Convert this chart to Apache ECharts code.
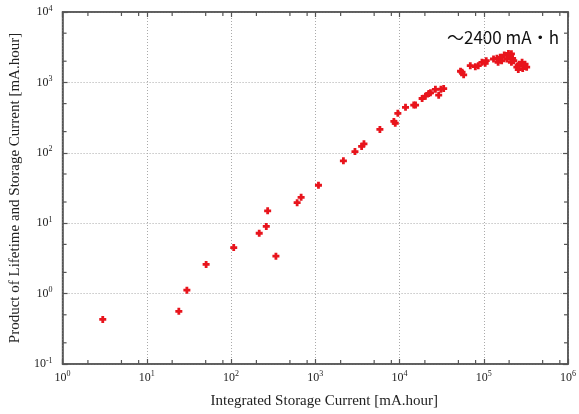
<!DOCTYPE html>
<html>
<head>
<meta charset="utf-8">
<script src="https://cdn.jsdelivr.net/npm/echarts@6/dist/echarts.min.js"></script>
<style>
  html, body { margin: 0; padding: 0; background: #fff; }
  #main { width: 579px; height: 414px; }
</style>
</head>
<body>
<div id="main"></div>
<script>
// 积分电流 [mA.hour]
var currentData = [3, 24, 29.9, 50.6, 107.6, 216, 262, 272, 341, 609, 679, 1091, 2157, 2958, 3550, 3783, 5848,
  8570, 8900, 9550, 11780, 14760, 15500, 18550, 20300, 22230, 23300, 26670, 29170, 31000, 33430,
  53000, 55200, 57700, 69200, 79400, 86000, 95200, 104000, 107000,
  130600, 143300, 148000, 156700, 163000, 175000, 188000, 196500, 204000, 213000, 213000, 220000, 227000,
  247000, 257000, 257000, 264000, 285000, 290000, 296000, 309000, 323000];
// 寿命 x 电流 [mA.hour]
var productData = [0.43, 0.56, 1.12, 2.6, 4.5, 7.2, 9.0, 15, 3.4, 19.6, 23.3, 34.6, 76.8, 104, 123, 134, 215,
  279, 263, 364, 442, 476, 476, 591, 637, 695, 713, 798, 658, 800, 816,
  1440, 1399, 1282, 1730, 1675, 1730, 1930, 1870, 2032,
  2150, 2195, 1930, 2270, 2030, 2443, 2150, 2580, 2270, 2550, 1930, 2195, 2030,
  1644, 1520, 1730, 1810, 1930, 1570, 1730, 1810, 1644];
// 次刻度
var xMinorTicks = [];
var yMinorTicks = [];
[0, 1, 2, 3, 4, 5].forEach(function (e) {
  [2, 5, 8].forEach(function (m) { xMinorTicks.push(m * Math.pow(10, e)); });
});
[-1, 0, 1, 2, 3].forEach(function (e) {
  [2, 5].forEach(function (m) { yMinorTicks.push(m * Math.pow(10, e)); });
});

(function () {
  var chart = echarts.init(document.getElementById('main'));

  var points = currentData.map(function (x, i) { return [x, productData[i]]; });
  var tickData = xMinorTicks.map(function (v) { return [v, 1, 'x']; })
    .concat(yMinorTicks.map(function (v) { return [1, v, 'y']; }));

  var axisColor = '#555';
  var serif = '"Liberation Serif", "DejaVu Serif", serif';

  function powLabel (v) {
    var e = Math.round(Math.log10(v));
    return '{b|10}{s|' + e + '}';
  }
  var labelRich = {
    b: { fontSize: 12, fontFamily: serif, color: '#222' },
    s: { fontSize: 8, fontFamily: serif, color: '#222', padding: [0, 0, 7, 0] }
  };
  var gridLine = { show: true, lineStyle: { color: '#aaa', type: [1, 2], width: 1 } };

  var option = {
    backgroundColor: '#fff',
    animation: false,
    grid: { left: 61, right: 11, top: 12, bottom: 45, show: true, borderColor: axisColor, borderWidth: 1.5 },
    xAxis: [
      {
        type: 'log', logBase: 10, min: 1, max: 1e6,
        name: 'Integrated Storage Current [mA.hour]',
        nameLocation: 'middle', nameGap: 30,
        nameTextStyle: { fontFamily: serif, fontSize: 15, color: '#222', padding: [0, 0, 0, 18] },
        axisLine: { lineStyle: { color: axisColor, width: 1.5 } },
        axisTick: { inside: true, length: 5, lineStyle: { color: axisColor, width: 1.2 } },
        axisLabel: { margin: 6, formatter: powLabel, rich: labelRich },
        splitLine: gridLine
      },
      {
        type: 'log', logBase: 10, min: 1, max: 1e6, position: 'top',
        axisLine: { lineStyle: { color: axisColor, width: 1.5 } },
        axisTick: { inside: true, length: 5, lineStyle: { color: axisColor, width: 1.2 } },
        axisLabel: { show: false },
        splitLine: { show: false }
      }
    ],
    yAxis: [
      {
        type: 'log', logBase: 10, min: 0.1, max: 1e4,
        name: 'Product of Lifetime and Storage Current [mA.hour]',
        nameLocation: 'middle', nameGap: 36,
        nameTextStyle: { fontFamily: serif, fontSize: 15, color: '#222' },
        axisLine: { lineStyle: { color: axisColor, width: 1.5 } },
        axisTick: { inside: true, length: 5, lineStyle: { color: axisColor, width: 1.2 } },
        axisLabel: { margin: 10, formatter: powLabel, rich: labelRich },
        splitLine: gridLine
      },
      {
        type: 'log', logBase: 10, min: 0.1, max: 1e4, position: 'right',
        axisLine: { lineStyle: { color: axisColor, width: 1.5 } },
        axisTick: { inside: true, length: 5, lineStyle: { color: axisColor, width: 1.2 } },
        axisLabel: { show: false },
        splitLine: { show: false }
      }
    ],
    graphic: [
      {
        type: 'text', left: 447, top: 29,
        style: { text: '～2400 mA・h', fontSize: 17, fontFamily: '"Noto Sans CJK JP", sans-serif', fill: '#111' }
      }
    ],
    series: [
      {
        // 次刻度线
        type: 'custom',
        silent: true,
        clip: false,
        renderItem: function (params, api) {
          var cs = params.coordSys;
          var p = api.coord([api.value(0), api.value(1)]);
          var len = 4;
          var style = { stroke: axisColor, lineWidth: 1.2 };
          if (api.value(2) === 'x') {
            return { type: 'group', children: [
              { type: 'line', shape: { x1: p[0], y1: cs.y + cs.height, x2: p[0], y2: cs.y + cs.height - len }, style: style },
              { type: 'line', shape: { x1: p[0], y1: cs.y, x2: p[0], y2: cs.y + len }, style: style }
            ] };
          }
          return { type: 'group', children: [
            { type: 'line', shape: { x1: cs.x, y1: p[1], x2: cs.x + len, y2: p[1] }, style: style },
            { type: 'line', shape: { x1: cs.x + cs.width, y1: p[1], x2: cs.x + cs.width - len, y2: p[1] }, style: style }
          ] };
        },
        data: tickData,
        z: 1
      },
      {
        name: 'data',
        type: 'scatter',
        symbol: 'path://M3,0H7V3H10V7H7V10H3V7H0V3H3Z',
        symbolSize: 7,
        itemStyle: { color: '#e8141c', opacity: 1 },
        data: points,
        z: 3
      }
    ]
  };

  chart.setOption(option);
  window.addEventListener('resize', function () {
    chart.resize();
  });
})();
</script>
</body>
</html>
